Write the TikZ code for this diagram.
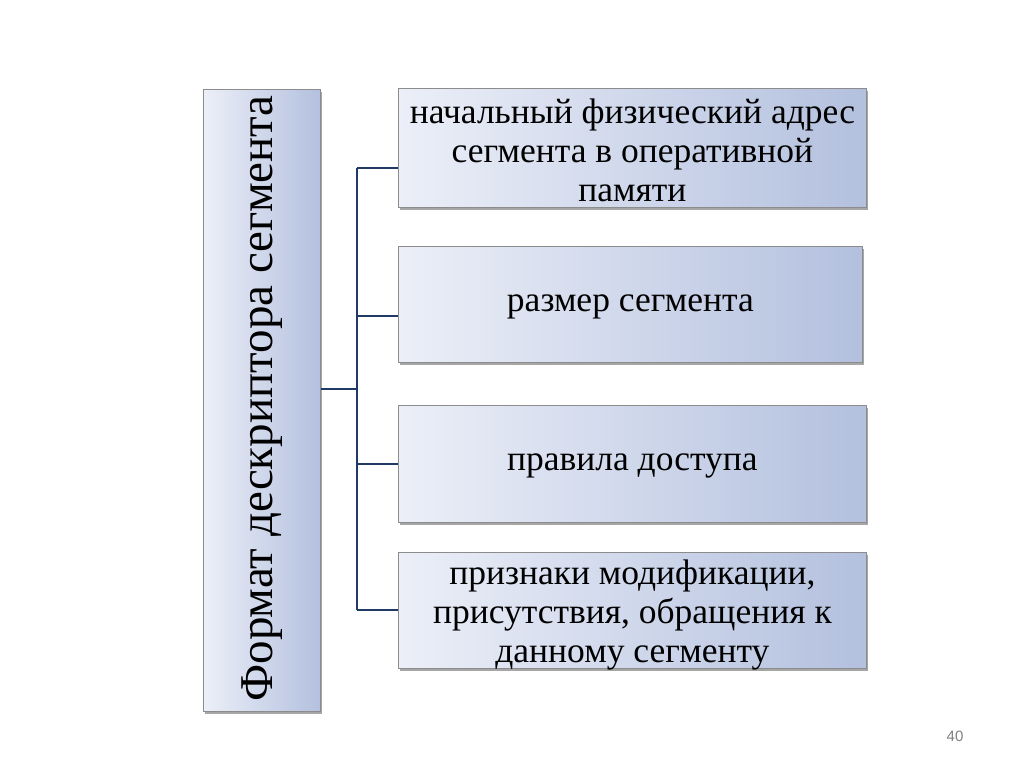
\documentclass[tikz,border=0pt]{standalone}
\usepackage{fontspec}
\setmainfont{Liberation Serif}
\newfontfamily\numfont{Liberation Sans}
\usetikzlibrary{shadows}
\definecolor{boxL}{HTML}{ECEFF8}
\definecolor{boxR}{HTML}{B3C0DE}
\definecolor{edge}{HTML}{8C8C8C}
\definecolor{conn}{HTML}{1F3A64}
\tikzset{
  x=1pt,y=-1pt,
  gbox/.style={draw=edge, line width=0.8pt, left color=boxL, right color=boxR,
    drop shadow={shadow xshift=2pt, shadow yshift=-3pt, fill=black, opacity=0.35},
    inner sep=0pt},
  btext/.style={align=center, font=\fontsize{35.5}{39}\selectfont, inner sep=0pt},
  link/.style={draw=conn, line width=2pt},
}
\begin{document}
\begin{tikzpicture}
\useasboundingbox (0,0) rectangle (1024,767);
% left box
\node[gbox, minimum width=117pt, minimum height=622pt, anchor=north west] (L) at (203,89) {};
\node[rotate=90, font=\fontsize{47}{52}\selectfont, xshift=2pt] (Lt) at (L.center) {Формат дескриптора сегмента};
% right boxes
\node[gbox, minimum width=468pt, minimum height=119pt, anchor=north west] (b1) at (398,88) {};
\node[btext, yshift=-2pt] (t1) at (b1.center) {начальный физический адрес\\сегмента в оперативной\\памяти};
\node[gbox, minimum width=464pt, minimum height=116pt, anchor=north west] (b2) at (398,246) {};
\node[btext, yshift=-3pt] (t2) at (b2.center) {размер сегмента};
\node[gbox, minimum width=468pt, minimum height=117pt, anchor=north west] (b3) at (398,405) {};
\node[btext, yshift=-2pt] (t3) at (b3.center) {правила доступа};
\node[gbox, minimum width=468pt, minimum height=116pt, anchor=north west] (b4) at (398,552) {};
\node[btext, yshift=-5pt] (t4) at (b4.center) {признаки модификации,\\присутствия, обращения к\\данному сегменту};
% connectors
\coordinate (j) at (357,389);
\coordinate (jt) at (357,168);
\coordinate (jb) at (357,610);
\draw[link] (L.east |- j) -- (j);
\draw[link] (jt) -- (jb);
\draw[link] (jt) -- (b1.west |- jt);
\draw[link] (357,316) -- (b2.west |- 0,316);
\draw[link] (357,464) -- (b3.west |- 0,464);
\draw[link] (jb) -- (b4.west |- jb);
% page number
\node[font=\numfont\fontsize{15}{17}\selectfont, text=gray] (pn) at (955,736) {40};
\end{tikzpicture}
\end{document}
